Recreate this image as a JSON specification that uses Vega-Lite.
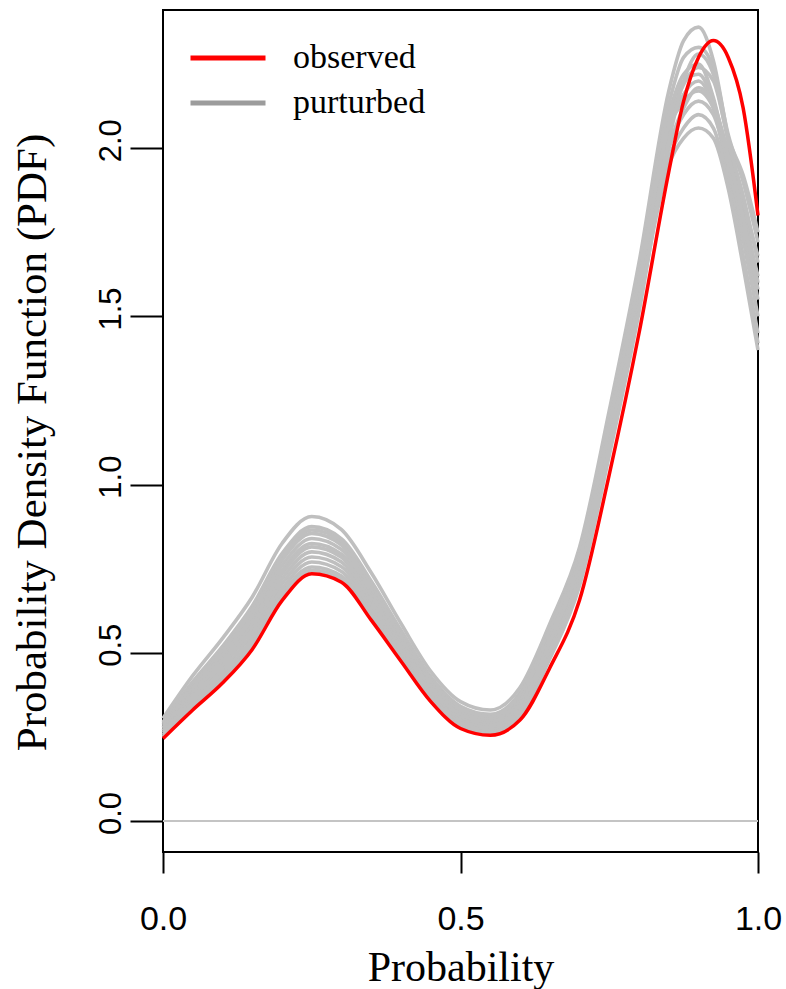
{
  "$schema": "https://vega.github.io/schema/vega-lite/v6.json",
  "width": 595,
  "height": 842,
  "autosize": {"type": "none"},
  "padding": {"left": 163, "top": 10, "right": 28, "bottom": 137},
  "background": "white",
  "config": {
    "view": {"stroke": "black", "strokeWidth": 2},
    "axis": {"grid": false, "domain": false}
  },
  "data": {
    "values": [
      {"x": 0, "obs": 0.245, "g1": 0.305, "g2": 0.294, "g3": 0.291, "g4": 0.287, "g5": 0.282, "g6": 0.277, "g7": 0.273, "g8": 0.268, "g9": 0.263, "g10": 0.257, "g11": 0.252, "g12": 0.249},
      {"x": 0.05, "obs": 0.33, "g1": 0.432, "g2": 0.414, "g3": 0.408, "g4": 0.402, "g5": 0.393, "g6": 0.384, "g7": 0.378, "g8": 0.369, "g9": 0.36, "g10": 0.351, "g11": 0.342, "g12": 0.336},
      {"x": 0.1, "obs": 0.41, "g1": 0.543, "g2": 0.519, "g3": 0.511, "g4": 0.504, "g5": 0.492, "g6": 0.48, "g7": 0.472, "g8": 0.461, "g9": 0.449, "g10": 0.437, "g11": 0.426, "g12": 0.418},
      {"x": 0.15, "obs": 0.51, "g1": 0.666, "g2": 0.639, "g3": 0.63, "g4": 0.62, "g5": 0.607, "g6": 0.593, "g7": 0.584, "g8": 0.57, "g9": 0.556, "g10": 0.542, "g11": 0.528, "g12": 0.519},
      {"x": 0.2, "obs": 0.655, "g1": 0.825, "g2": 0.795, "g3": 0.785, "g4": 0.775, "g5": 0.76, "g6": 0.745, "g7": 0.735, "g8": 0.72, "g9": 0.705, "g10": 0.69, "g11": 0.675, "g12": 0.665},
      {"x": 0.25, "obs": 0.735, "g1": 0.905, "g2": 0.875, "g3": 0.865, "g4": 0.855, "g5": 0.84, "g6": 0.825, "g7": 0.815, "g8": 0.8, "g9": 0.785, "g10": 0.77, "g11": 0.755, "g12": 0.745},
      {"x": 0.3, "obs": 0.71, "g1": 0.866, "g2": 0.839, "g3": 0.83, "g4": 0.82, "g5": 0.807, "g6": 0.793, "g7": 0.784, "g8": 0.77, "g9": 0.756, "g10": 0.742, "g11": 0.728, "g12": 0.719},
      {"x": 0.35, "obs": 0.597, "g1": 0.738, "g2": 0.713, "g3": 0.705, "g4": 0.697, "g5": 0.684, "g6": 0.672, "g7": 0.663, "g8": 0.651, "g9": 0.639, "g10": 0.626, "g11": 0.614, "g12": 0.605},
      {"x": 0.4, "obs": 0.475, "g1": 0.587, "g2": 0.567, "g3": 0.561, "g4": 0.554, "g5": 0.544, "g6": 0.534, "g7": 0.528, "g8": 0.518, "g9": 0.508, "g10": 0.498, "g11": 0.488, "g12": 0.482},
      {"x": 0.45, "obs": 0.355, "g1": 0.445, "g2": 0.429, "g3": 0.424, "g4": 0.419, "g5": 0.411, "g6": 0.403, "g7": 0.397, "g8": 0.389, "g9": 0.382, "g10": 0.374, "g11": 0.366, "g12": 0.36},
      {"x": 0.5, "obs": 0.275, "g1": 0.355, "g2": 0.341, "g3": 0.336, "g4": 0.331, "g5": 0.324, "g6": 0.317, "g7": 0.313, "g8": 0.306, "g9": 0.299, "g10": 0.291, "g11": 0.284, "g12": 0.28},
      {"x": 0.55, "obs": 0.255, "g1": 0.33, "g2": 0.317, "g3": 0.312, "g4": 0.308, "g5": 0.301, "g6": 0.295, "g7": 0.29, "g8": 0.284, "g9": 0.277, "g10": 0.27, "g11": 0.264, "g12": 0.259},
      {"x": 0.6, "obs": 0.3, "g1": 0.397, "g2": 0.381, "g3": 0.375, "g4": 0.372, "g5": 0.361, "g6": 0.357, "g7": 0.348, "g8": 0.343, "g9": 0.333, "g10": 0.326, "g11": 0.317, "g12": 0.311},
      {"x": 0.65, "obs": 0.455, "g1": 0.586, "g2": 0.569, "g3": 0.558, "g4": 0.563, "g5": 0.543, "g6": 0.546, "g7": 0.527, "g8": 0.531, "g9": 0.51, "g10": 0.506, "g11": 0.493, "g12": 0.482},
      {"x": 0.7, "obs": 0.656, "g1": 0.813, "g2": 0.796, "g3": 0.781, "g4": 0.794, "g5": 0.765, "g6": 0.777, "g7": 0.748, "g8": 0.761, "g9": 0.731, "g10": 0.73, "g11": 0.714, "g12": 0.699},
      {"x": 0.75, "obs": 1.03, "g1": 1.22, "g2": 1.201, "g3": 1.182, "g4": 1.201, "g5": 1.163, "g6": 1.182, "g7": 1.144, "g8": 1.163, "g9": 1.125, "g10": 1.125, "g11": 1.106, "g12": 1.087},
      {"x": 0.8, "obs": 1.45, "g1": 1.66, "g2": 1.639, "g3": 1.618, "g4": 1.639, "g5": 1.597, "g6": 1.618, "g7": 1.576, "g8": 1.597, "g9": 1.555, "g10": 1.555, "g11": 1.534, "g12": 1.513},
      {"x": 0.85, "obs": 1.93, "g1": 2.17, "g2": 2.13, "g3": 2.1, "g4": 2.1, "g5": 2.05, "g6": 2.06, "g7": 2.0, "g8": 2.07, "g9": 1.97, "g10": 2.0, "g11": 1.95, "g12": 2.02},
      {"x": 0.875, "obs": 2.14, "g1": 2.32, "g2": 2.27, "g3": 2.22, "g4": 2.2, "g5": 2.16, "g6": 2.14, "g7": 2.1, "g8": 2.19, "g9": 2.06, "g10": 2.12, "g11": 2.03, "g12": 2.2},
      {"x": 0.9, "obs": 2.27, "g1": 2.36, "g2": 2.3, "g3": 2.25, "g4": 2.22, "g5": 2.2, "g6": 2.17, "g7": 2.14, "g8": 2.24, "g9": 2.1, "g10": 2.18, "g11": 2.06, "g12": 2.28},
      {"x": 0.925, "obs": 2.32, "g1": 2.26, "g2": 2.24, "g3": 2.15, "g4": 2.14, "g5": 2.12, "g6": 2.12, "g7": 2.1, "g8": 2.2, "g9": 2.06, "g10": 2.13, "g11": 2.03, "g12": 2.22},
      {"x": 0.95, "obs": 2.27, "g1": 2.03, "g2": 2.04, "g3": 1.95, "g4": 1.98, "g5": 1.92, "g6": 1.99, "g7": 1.95, "g8": 2.03, "g9": 1.9, "g10": 1.98, "g11": 1.88, "g12": 2.02},
      {"x": 0.975, "obs": 2.12, "g1": 1.83, "g2": 1.9, "g3": 1.73, "g4": 1.8, "g5": 1.68, "g6": 1.84, "g7": 1.76, "g8": 1.92, "g9": 1.67, "g10": 1.79, "g11": 1.65, "g12": 1.86},
      {"x": 1.0, "obs": 1.8, "g1": 1.6, "g2": 1.72, "g3": 1.5, "g4": 1.62, "g5": 1.45, "g6": 1.68, "g7": 1.55, "g8": 1.75, "g9": 1.42, "g10": 1.58, "g11": 1.4, "g12": 1.66}
    ]
  },
  "layer": [
    {
      "mark": {"type": "rule", "color": "#c4c4c4", "strokeWidth": 2},
      "encoding": {
        "y": {"datum": 0, "type": "quantitative", "scale": {"domain": [-0.0922, 2.411], "nice": false, "zero": false}, "title": "Probability Density Function (PDF)"}
      }
    },
    {
      "transform": [{"fold": ["g1", "g2", "g3", "g4", "g5", "g6", "g7", "g8", "g9", "g10", "g11", "g12"], "as": ["key", "val"]}],
      "mark": {"type": "line", "interpolate": "monotone", "strokeWidth": 3.6, "color": "#bfbfbf"},
      "encoding": {
        "x": {
          "field": "x", "type": "quantitative",
          "scale": {"domain": [0, 1], "nice": false, "zero": false},
          "title": "Probability",
          "axis": {"values": [0, 0.5, 1], "format": ".1f", "labelFont": "Liberation Sans", "labelFontSize": 34, "labelColor": "black", "tickSize": 21, "tickWidth": 2, "tickColor": "black", "labelPadding": 29, "labelFlush": false, "labelOverlap": false, "titleFont": "Liberation Serif", "titleFontSize": 42, "titleFontWeight": "normal", "titleColor": "black", "titleBaseline": "alphabetic", "titleY": 128, "titleX": 297.5}
        },
        "y": {
          "field": "val", "type": "quantitative",
          "scale": {"domain": [-0.0922, 2.411], "nice": false, "zero": false},
          "title": "Probability Density Function (PDF)",
          "axis": {"values": [0, 0.5, 1, 1.5, 2], "format": ".1f", "labelFont": "Liberation Sans", "labelFontSize": 31, "labelColor": "black", "labelAngle": 270, "labelAlign": "center", "labelBaseline": "alphabetic", "labelPadding": 10, "labelOffset": -8, "tickSize": 33, "tickWidth": 2, "tickColor": "black", "labelOverlap": false, "labelFlush": false, "titleFont": "Liberation Serif", "titleFontSize": 43, "titleFontWeight": "normal", "titleColor": "black", "titleAngle": 270, "titleBaseline": "alphabetic", "titleX": -118, "titleY": 432}
        },
        "detail": {"field": "key"}
      }
    },
    {
      "mark": {"type": "line", "interpolate": "monotone", "strokeWidth": 3.5},
      "encoding": {
        "x": {"field": "x", "type": "quantitative", "scale": {"domain": [0, 1], "nice": false, "zero": false}, "title": "Probability"},
        "y": {"field": "obs", "type": "quantitative", "scale": {"domain": [-0.0922, 2.411], "nice": false, "zero": false}, "title": "Probability Density Function (PDF)"},
        "color": {
          "datum": "observed",
          "scale": {"domain": ["observed", "purturbed"], "range": ["#ff0000", "#9c9c9c"]},
          "legend": {"orient": "none", "legendX": 25, "legendY": 25.5, "title": null, "direction": "vertical", "symbolType": "stroke", "symbolSize": 5625, "symbolStrokeWidth": 5, "labelFont": "Liberation Serif", "labelFontSize": 34, "labelColor": "black", "labelOffset": 25, "clipHeight": 45, "padding": 0, "rowPadding": 0, "labelLimit": 0}
        }
      }
    }
  ]
}
